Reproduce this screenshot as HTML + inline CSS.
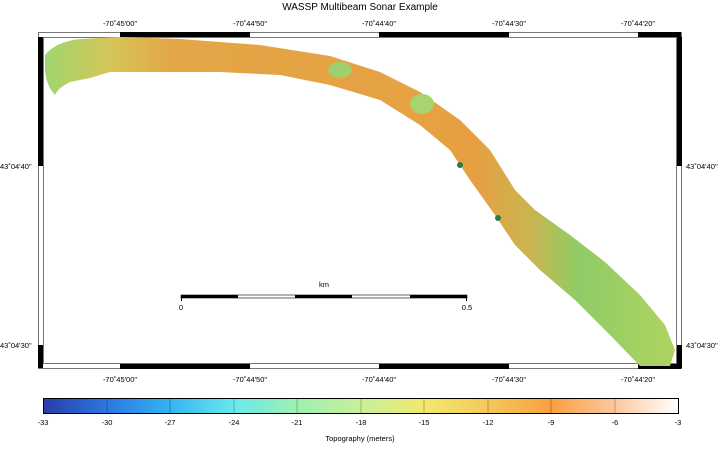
<!DOCTYPE html>
<html><head><meta charset="utf-8"><style>
body{margin:0;background:#fff;width:720px;height:444px;overflow:hidden}
text{font-family:"Liberation Sans",sans-serif;fill:#000}
</style></head><body>
<svg width="720" height="444" viewBox="0 0 720 444" xmlns="http://www.w3.org/2000/svg">
<defs>
<linearGradient id="sw" gradientUnits="userSpaceOnUse" x1="45" y1="0" x2="680" y2="0">
<stop offset="0" stop-color="#9fd670"/>
<stop offset="0.1" stop-color="#d4c658"/>
<stop offset="0.2" stop-color="#e4a646"/>
<stop offset="0.68" stop-color="#e6a042"/>
<stop offset="0.76" stop-color="#ccb450"/>
<stop offset="0.84" stop-color="#90cc66"/>
<stop offset="1" stop-color="#b0d460"/>
</linearGradient>
<linearGradient id="cb" x1="0" y1="0" x2="1" y2="0">
<stop offset="0" stop-color="#2a3ca8"/>
<stop offset="0.1" stop-color="#2a78e0"/>
<stop offset="0.2" stop-color="#35b4f2"/>
<stop offset="0.3" stop-color="#6ae8ee"/>
<stop offset="0.4" stop-color="#9ef0b0"/>
<stop offset="0.5" stop-color="#c8f09a"/>
<stop offset="0.6" stop-color="#f2e870"/>
<stop offset="0.7" stop-color="#f5c85a"/>
<stop offset="0.8" stop-color="#f9a040"/>
<stop offset="0.9" stop-color="#fcc8a0"/>
<stop offset="1" stop-color="#ffffff"/>
</linearGradient>
</defs>
<text x="360" y="10" font-size="10" text-anchor="middle">WASSP Multibeam Sonar Example</text>
<rect x="38.5" y="32.5" width="643" height="336" fill="none" stroke="#777" stroke-width="1"/>
<rect x="43.5" y="37.5" width="633" height="326" fill="none" stroke="#777" stroke-width="1"/>
<g fill="#000">
<rect x="120" y="32" width="130" height="5"/><rect x="379" y="32" width="130" height="5"/><rect x="638" y="32" width="43" height="5"/>
<rect x="120" y="364" width="130" height="5"/><rect x="379" y="364" width="130" height="5"/><rect x="638" y="364" width="43" height="5"/>
<rect x="38" y="37" width="5" height="129"/><rect x="38" y="345" width="5" height="23"/>
<rect x="677" y="37" width="5" height="129"/><rect x="677" y="345" width="5" height="23"/>
</g>
<g font-size="7.5" text-anchor="middle">
<text x="120" y="26">-70˚45'00"</text><text x="250" y="26">-70˚44'50"</text><text x="379" y="26">-70˚44'40"</text><text x="509" y="26">-70˚44'30"</text><text x="638" y="26">-70˚44'20"</text>
<text x="120" y="382">-70˚45'00"</text><text x="250" y="382">-70˚44'50"</text><text x="379" y="382">-70˚44'40"</text><text x="509" y="382">-70˚44'30"</text><text x="638" y="382">-70˚44'20"</text>
</g>
<g font-size="7.5">
<text x="0" y="169">43˚04'40"</text><text x="0" y="348">43˚04'30"</text>
<text x="686" y="169">43˚04'40"</text><text x="686" y="348">43˚04'30"</text>
</g>
<path fill="url(#sw)" d="M45,55 Q55,42 80,39 L120,37 L180,39 L260,45 L330,56 L380,72 L420,92 L460,120 L490,150 L515,190 L535,210 L570,235 L605,262 L640,295 L665,325 L675,350 L670,366 L640,366 L610,335 L575,300 L540,270 L515,245 L495,215 L470,180 L450,150 L420,125 L380,100 L330,85 L280,75 L220,72 L170,72 L110,72 L90,78 L70,82 Q58,88 55,95 Q46,85 45,70 Z"/>
<ellipse cx="340" cy="70" rx="12" ry="8" fill="#9ed070"/>
<ellipse cx="422" cy="104" rx="12" ry="10" fill="#a8d470"/>
<circle cx="460" cy="165" r="3" fill="#2a7a50"/>
<circle cx="498" cy="218" r="3" fill="#2a7a50"/>
<text x="324" y="287" font-size="7.5" text-anchor="middle">km</text>
<rect x="181" y="295" width="286" height="3" fill="#fff" stroke="#000" stroke-width="0.6"/>
<g fill="#000"><rect x="181" y="295" width="57" height="3"/><rect x="295" y="295" width="57" height="3"/><rect x="410" y="295" width="57" height="3"/></g>
<rect x="181" y="295" width="1" height="6" fill="#000"/><rect x="466" y="295" width="1" height="6" fill="#000"/>
<text x="181" y="310" font-size="7.5" text-anchor="middle">0</text>
<text x="467" y="310" font-size="7.5" text-anchor="middle">0.5</text>
<rect x="43.5" y="398.5" width="635" height="15" fill="url(#cb)" stroke="#000" stroke-width="1"/>
<g stroke="#000" stroke-width="0.5" opacity="0.5">
<line x1="107" y1="399" x2="107" y2="413"/><line x1="170" y1="399" x2="170" y2="413"/><line x1="234" y1="399" x2="234" y2="413"/><line x1="297" y1="399" x2="297" y2="413"/><line x1="361" y1="399" x2="361" y2="413"/><line x1="424" y1="399" x2="424" y2="413"/><line x1="488" y1="399" x2="488" y2="413"/><line x1="551" y1="399" x2="551" y2="413"/><line x1="615" y1="399" x2="615" y2="413"/>
</g>
<g font-size="7.5" text-anchor="middle">
<text x="43" y="425">-33</text><text x="107" y="425">-30</text><text x="170" y="425">-27</text><text x="234" y="425">-24</text><text x="297" y="425">-21</text><text x="361" y="425">-18</text><text x="424" y="425">-15</text><text x="488" y="425">-12</text><text x="551" y="425">-9</text><text x="615" y="425">-6</text><text x="678" y="425">-3</text>
<text x="360" y="441">Topography (meters)</text>
</g>
</svg>
</body></html>
